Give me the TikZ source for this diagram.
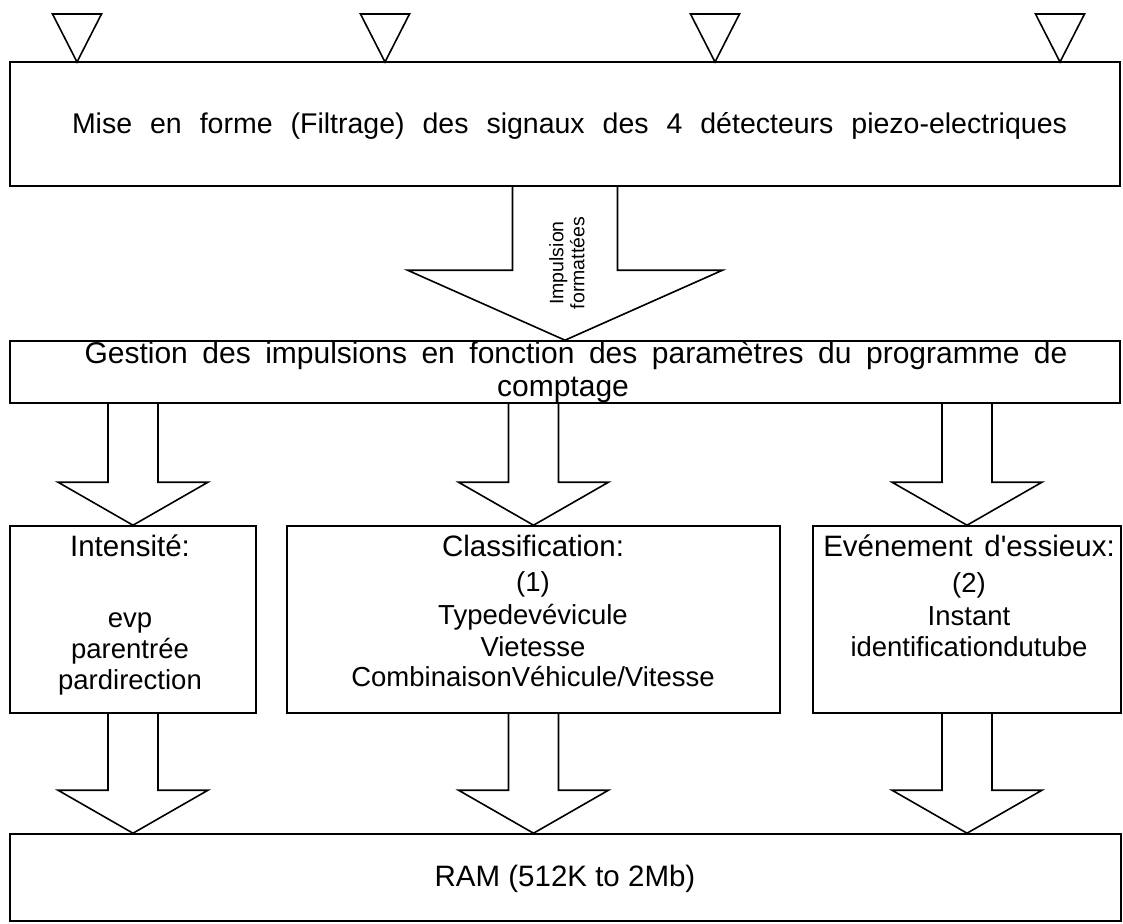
\documentclass[tikz,border=0pt]{standalone}
\usepackage{fontspec}
\setmainfont{Liberation Sans}
\usetikzlibrary{positioning,calc}
\tikzset{
  box/.style={draw,line width=1.6pt,inner sep=0pt},
  lbl/.style={inner sep=0pt,font=\fontsize{27.5}{31}\selectfont},
  fat/.style={draw,line width=1.6pt},
}
\newcommand{\hd}[1]{{\fontsize{29.5}{31}\selectfont #1}}
% hollow block arrow: #1 start, #2 tip, #3 half shaft, #4 half head, #5 head length
\newcommand{\fatarrow}[5]{%
  \draw[fat] ($(#1)+(-#3,0)$) -- ($(#2)+(-#3,-#5)$) -- ($(#2)+(-#4,-#5)$) -- (#2)
    -- ($(#2)+(#4,-#5)$) -- ($(#2)+(#3,-#5)$) -- ($(#1)+(#3,0)$);}

\begin{document}
\begin{tikzpicture}[x=1pt,y=-1pt]
  \useasboundingbox (0,0) rectangle (1123,923);

  % filtering stage with the 4 sensors
  \node[box,minimum width=1110,minimum height=124] (filt) at (565,124) {};
  \node[lbl,anchor=base,font=\fontsize{28.5}{32}\selectfont] (filttxt) at (569.5,133)
    {\makebox[995pt][s]{Mise en forme (Filtrage) des signaux des 4 détecteurs piezo-electriques}};
  \foreach \x in {77,385,715,1060}
    \draw[fat] (\x,62) -- ++(-24.5,-48) -- ++(49,0) -- cycle;

  % pulse handling
  \node[box,minimum width=1110,minimum height=62] (gest) at (565,372) {};
  \node[lbl,anchor=base,font=\fontsize{30}{33}\selectfont] (gesttxt) at (576,363)
    {\makebox[983pt][s]{Gestion\hfill des\hfill impulsions\hfill en\hfill fonction\hfill des\hfill paramètres\hfill du\hfill programme\hfill de}};
  \node[lbl,anchor=base,font=\fontsize{30}{33}\selectfont] (gesttxt2) at (563,396) {comptage};
  \fatarrow{filt.south}{gest.north}{52.5}{157.5}{70}
  \node[lbl,font=\fontsize{19.5}{21}\selectfont,align=center,rotate=90] (imp) at (567,263)
    {Impulsion\\formattées};

  % three result blocks
  \node[box,minimum width=246,minimum height=187] (int) at (133,619.5) {};
  \node[box,minimum width=493,minimum height=187] (cls) at (533.5,619.5) {};
  \node[box,minimum width=308,minimum height=187] (evt) at (967,619.5) {};
  \node[lbl,anchor=base,text width=240pt,align=center] (inttxt) at (130,556)
    {\hd{Intensité:}\\[40pt]evp\\parentrée\\pardirection};
  \node[lbl,anchor=base,text width=480pt,align=center] (clstxt) at (533,556)
    {\hd{Classification:}\\[4pt](1)\\[2pt]Typedevévicule\\[1pt]Vietesse\\[-1pt]CombinaisonVéhicule/Vitesse};
  \node[lbl,anchor=base,text width=320pt,align=center] (evttxt) at (969,556)
    {\hd{Evénement\hspace{12pt}d\textquotesingle essieux:}\\[5pt](2)\\[2pt]Instant\\identificationdutube};

  % memory
  \node[box,minimum width=1111,minimum height=87] (ram) at (565.5,877.5) {};
  \node[lbl,font=\fontsize{29.5}{32}\selectfont] (ramtxt) at (565,879) {RAM (512K to 2Mb)};

  \foreach \b in {int,cls,evt} {
    \coordinate (g\b) at (gest.south -| \b.north);
    \coordinate (r\b) at (ram.north -| \b.south);
    \fatarrow{g\b}{\b.north}{25}{75}{43}
    \fatarrow{\b.south}{r\b}{25}{75}{43}
  }
\end{tikzpicture}
\end{document}
